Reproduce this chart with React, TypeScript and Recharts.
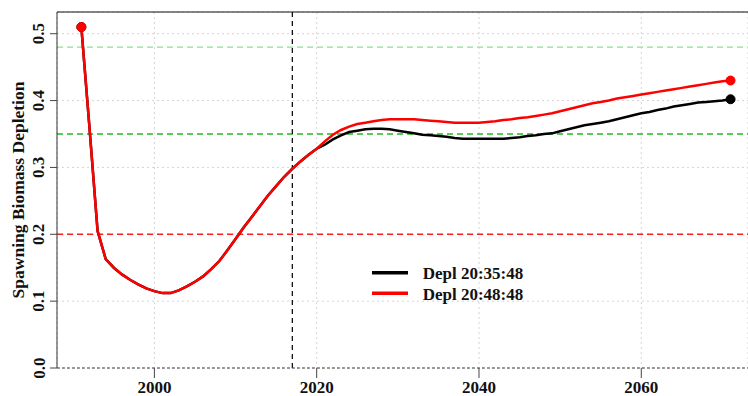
import React from "react";
import { LineChart, Line, XAxis, YAxis, CartesianGrid, ReferenceLine } from "recharts";

const years: number[] = [];
for (let y = 1991; y <= 2071; y++) years.push(y);

const redValues = [
  0.510, 0.360, 0.205, 0.163, 0.150, 0.140, 0.132, 0.125, 0.119, 0.115,
  0.112, 0.112, 0.116, 0.122, 0.129, 0.137, 0.148, 0.160, 0.176, 0.193,
  0.210, 0.226, 0.242, 0.258, 0.272, 0.286, 0.298, 0.309, 0.319, 0.328,
  0.339, 0.349, 0.356, 0.361, 0.365, 0.367, 0.369, 0.371, 0.372, 0.372,
  0.372, 0.372, 0.371, 0.370, 0.369, 0.368, 0.367, 0.367, 0.367, 0.367,
  0.368, 0.369, 0.371, 0.372, 0.374, 0.375, 0.377, 0.379, 0.381, 0.384,
  0.387, 0.390, 0.393, 0.396, 0.398, 0.400, 0.403, 0.405, 0.407, 0.409,
  0.411, 0.413, 0.415, 0.417, 0.419, 0.421, 0.423, 0.425, 0.427, 0.429,
  0.430,
];

const blackValues = [
  0.510, 0.360, 0.205, 0.163, 0.150, 0.140, 0.132, 0.125, 0.119, 0.115,
  0.112, 0.112, 0.116, 0.122, 0.129, 0.137, 0.148, 0.160, 0.176, 0.193,
  0.210, 0.226, 0.242, 0.258, 0.272, 0.286, 0.298, 0.309, 0.319, 0.328,
  0.334, 0.342, 0.348, 0.353, 0.355, 0.357, 0.358, 0.358, 0.357, 0.355,
  0.353, 0.351, 0.349, 0.348, 0.347, 0.346, 0.344, 0.343, 0.343, 0.343,
  0.343, 0.343, 0.343, 0.344, 0.345, 0.347, 0.348, 0.350, 0.351, 0.354,
  0.357, 0.360, 0.363, 0.365, 0.367, 0.369, 0.372, 0.375, 0.378, 0.381,
  0.383, 0.386, 0.388, 0.391, 0.393, 0.395, 0.397, 0.398, 0.399, 0.400,
  0.402,
];

const seriesNames = ["Depl 20:35:48", "Depl 20:48:48"];
const seriesColors = ["#000000", "#ff0000"];
const xTicks = [2000, 2020, 2040, 2060];
const yTicks = [0, 0.1, 0.2, 0.3, 0.4, 0.5];
const yTickLabels = ["0.0", "0.1", "0.2", "0.3", "0.4", "0.5"];
const refLevels = [0.48, 0.35, 0.2];
const refColors = ["#8fe08f", "#22bb22", "#ff2020"];
const currentYear = 2017;

const data = years.map((yr, i) => ({ year: yr, black: blackValues[i], red: redValues[i] }));

const X_DOMAIN: [number, number] = [1988, 2073.15];
const Y_DOMAIN: [number, number] = [0, 0.5325];
const FONT = "'Liberation Serif', 'Times New Roman', serif";

const XTick = (props: any) => {
  const { x, y, payload } = props;
  return (
    <text x={x} y={y + 13} textAnchor="middle" fontFamily={FONT} fontWeight="bold" fontSize={17} fill="#111">
      {payload.value}
    </text>
  );
};

const YTick = (props: any) => {
  const { x, y, payload } = props;
  const idx = yTicks.indexOf(payload.value);
  const tx = x - 3.5;
  return (
    <text
      x={tx}
      y={y}
      textAnchor="middle"
      transform={`rotate(-90, ${tx}, ${y})`}
      fontFamily={FONT}
      fontWeight="bold"
      fontSize={17}
      fill="#111"
    >
      {idx >= 0 ? yTickLabels[idx] : payload.value}
    </text>
  );
};

const makeDot = (color: string, n: number) => (p: any) => {
  if (p.index === 0 || p.index === n - 1) {
    return <circle key={`d-${color}-${p.index}`} cx={p.cx} cy={p.cy} r={4.5} fill={color} stroke={color} />;
  }
  return <g key={`d-${color}-${p.index}`} />;
};

export default function App() {
  return (
    <div style={{ position: "absolute", left: 0, top: 0, width: 748, height: 396, background: "#fff" }}>
      <LineChart width={748} height={396} data={data} margin={{ top: 12, right: 0, bottom: 0, left: 0 }}>
        <CartesianGrid stroke="#d4d4d4" strokeDasharray="2 3" />
        <XAxis
          dataKey="year"
          type="number"
          domain={X_DOMAIN}
          ticks={xTicks}
          allowDataOverflow
          height={28}
          tickSize={10}
          tickLine={{ stroke: "#444" }}
          axisLine={{ stroke: "#444", strokeDasharray: "3 2" }}
          tick={<XTick />}
        />
        <YAxis
          type="number"
          domain={Y_DOMAIN}
          ticks={yTicks}
          allowDataOverflow
          width={57}
          tickSize={7}
          tickLine={{ stroke: "#444" }}
          axisLine={{ stroke: "#333" }}
          tick={<YTick />}
          label={{
            value: "Spawning Biomass Depletion",
            angle: -90,
            position: "insideLeft",
            content: (lp: any) => {
              const cx = 23.5;
              const cy = 190;
              return (
                <text
                  x={cx}
                  y={cy}
                  textAnchor="middle"
                  transform={`rotate(-90, ${cx}, ${cy})`}
                  fontFamily={FONT}
                  fontWeight="bold"
                  fontSize={17.5}
                  fill="#111"
                >
                  Spawning Biomass Depletion
                </text>
              );
            },
          }}
        />
        <ReferenceLine y={Y_DOMAIN[1]} stroke="#111" strokeWidth={1.2} />
        <ReferenceLine y={refLevels[0]} stroke={refColors[0]} strokeDasharray="6 4" strokeWidth={1.2} />
        <ReferenceLine y={refLevels[1]} stroke={refColors[1]} strokeDasharray="6 4" strokeWidth={1.5} />
        <ReferenceLine y={refLevels[2]} stroke={refColors[2]} strokeDasharray="6 4" strokeWidth={1.5} />
        <ReferenceLine x={currentYear} stroke="#111" strokeDasharray="5 4" strokeWidth={1.3} />
        <Line
          dataKey="black"
          name={seriesNames[0]}
          stroke={seriesColors[0]}
          strokeWidth={2.5}
          type="linear"
          dot={makeDot(seriesColors[0], data.length)}
          isAnimationActive={false}
        />
        <Line
          dataKey="red"
          name={seriesNames[1]}
          stroke={seriesColors[1]}
          strokeWidth={2.5}
          type="linear"
          dot={makeDot(seriesColors[1], data.length)}
          isAnimationActive={false}
        />
      </LineChart>
      <svg width={220} height={50} style={{ position: "absolute", left: 365, top: 260 }}>
        {seriesNames.map((nm, i) => (
          <g key={nm}>
            <line x1={7} x2={43} y1={12.7 + i * 20.6} y2={12.7 + i * 20.6} stroke={seriesColors[i]} strokeWidth={3.5} />
            <text x={57.7} y={19 + i * 20.6} fontFamily={FONT} fontWeight="bold" fontSize={17} fill="#111">
              {nm}
            </text>
          </g>
        ))}
      </svg>
    </div>
  );
}
